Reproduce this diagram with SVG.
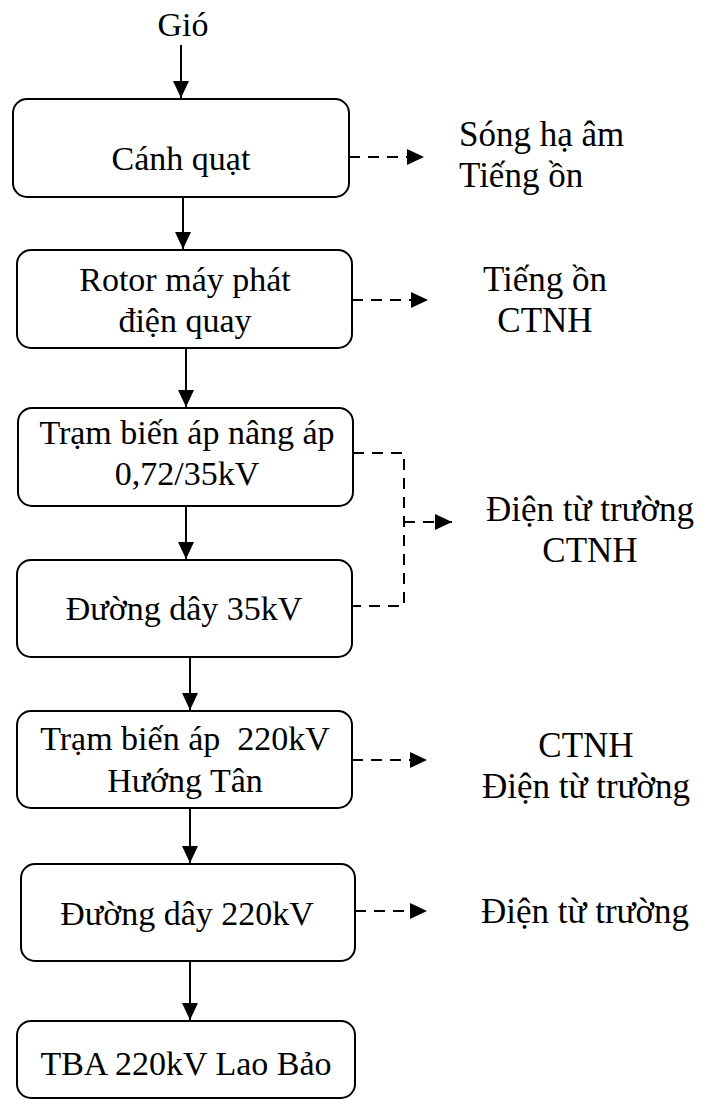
<svg xmlns="http://www.w3.org/2000/svg" width="701" height="1100" viewBox="0 0 701 1100">
  <style>
    .box { fill: #ffffff; stroke: #000000; stroke-width: 2; }
    .lbl { font-family: "Liberation Serif", "Times New Roman", serif; font-size: 34px; fill: #000000; }
    .out { font-size: 35px; }
    .mid { text-anchor: middle; }
    .flow { fill: none; stroke: #000000; stroke-width: 2; }
    .emit { fill: none; stroke: #000000; stroke-width: 2; stroke-dasharray: 11 8; }
  </style>
  <defs>
    <marker id="head" markerUnits="userSpaceOnUse" markerWidth="17" markerHeight="16" refX="17" refY="8" orient="auto">
      <path d="M0,0 L17,8 L0,16 z" fill="#000000"/>
    </marker>
  </defs>

  <rect width="701" height="1100" fill="#ffffff"/>

  <!-- input label -->
  <g id="wind">
    <text class="lbl mid" x="183" y="36">Gió</text>
  </g>

  <!-- process chain -->
  <g id="blades">
    <rect class="box" x="13" y="99" width="336" height="98" rx="14"/>
    <text class="lbl mid" x="181" y="170">Cánh quạt</text>
  </g>
  <g id="rotor">
    <rect class="box" x="17" y="250" width="335" height="98" rx="14"/>
    <text class="lbl mid" x="185" y="291">Rotor máy phát</text>
    <text class="lbl mid" x="185" y="332">điện quay</text>
  </g>
  <g id="stepup">
    <rect class="box" x="18" y="408" width="335" height="98" rx="14"/>
    <text class="lbl mid" x="187" y="444">Trạm biến áp nâng áp</text>
    <text class="lbl mid" x="187" y="485">0,72/35kV</text>
  </g>
  <g id="line35">
    <rect class="box" x="17" y="560" width="335" height="97" rx="14"/>
    <text class="lbl mid" x="184" y="620">Đường dây 35kV</text>
  </g>
  <g id="sub220">
    <rect class="box" x="17" y="711" width="335" height="97" rx="14"/>
    <text class="lbl mid" x="185" y="750" xml:space="preserve">Trạm biến áp  220kV</text>
    <text class="lbl mid" x="185" y="792">Hướng Tân</text>
  </g>
  <g id="line220">
    <rect class="box" x="21" y="864" width="334" height="97" rx="14"/>
    <text class="lbl mid" x="187" y="925">Đường dây 220kV</text>
  </g>
  <g id="laobao">
    <rect class="box" x="17" y="1021" width="338" height="77" rx="14"/>
    <text class="lbl mid" x="186" y="1075">TBA 220kV Lao Bảo</text>
  </g>

  <!-- impact labels -->
  <g id="impact-blades">
    <text class="lbl out" x="459" y="146">Sóng hạ âm</text>
    <text class="lbl out" x="459" y="187">Tiếng ồn</text>
  </g>
  <g id="impact-rotor">
    <text class="lbl out mid" x="545" y="291">Tiếng ồn</text>
    <text class="lbl out mid" x="545" y="332">CTNH</text>
  </g>
  <g id="impact-35kv">
    <text class="lbl out mid" x="590" y="521">Điện từ trường</text>
    <text class="lbl out mid" x="590" y="562">CTNH</text>
  </g>
  <g id="impact-sub220">
    <text class="lbl out mid" x="586" y="757">CTNH</text>
    <text class="lbl out mid" x="586" y="798">Điện từ trường</text>
  </g>
  <g id="impact-line220">
    <text class="lbl out mid" x="585" y="923">Điện từ trường</text>
  </g>

  <!-- connectors -->
  <g id="connectors">
    <line class="flow" x1="181" y1="45" x2="181" y2="98" marker-end="url(#head)"/>
    <line class="flow" x1="183" y1="197" x2="183" y2="249" marker-end="url(#head)"/>
    <line class="flow" x1="186" y1="348" x2="186" y2="407" marker-end="url(#head)"/>
    <line class="flow" x1="186" y1="506" x2="186" y2="559" marker-end="url(#head)"/>
    <line class="flow" x1="190" y1="657" x2="190" y2="710" marker-end="url(#head)"/>
    <line class="flow" x1="190" y1="808" x2="190" y2="863" marker-end="url(#head)"/>
    <line class="flow" x1="190" y1="961" x2="190" y2="1020" marker-end="url(#head)"/>

    <line class="emit" x1="349" y1="157" x2="424" y2="157" marker-end="url(#head)"/>
    <line class="emit" x1="352" y1="300" x2="428" y2="300" marker-end="url(#head)"/>
    <polyline class="emit" points="353,453 404,453 404,606 352,606"/>
    <line class="emit" x1="404" y1="522" x2="452" y2="522" marker-end="url(#head)"/>
    <line class="emit" x1="352" y1="760" x2="427" y2="760" marker-end="url(#head)"/>
    <line class="emit" x1="355" y1="911" x2="427" y2="911" marker-end="url(#head)"/>
  </g>
</svg>
